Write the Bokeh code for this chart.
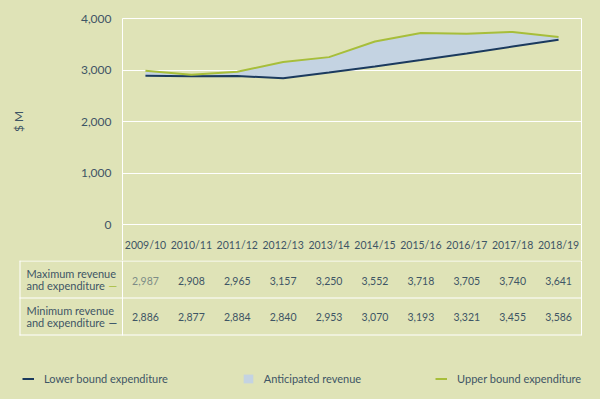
from bokeh.plotting import figure
from bokeh.layouts import column
from bokeh.models import (Range1d, FixedTicker, NumeralTickFormatter, Legend, LegendItem,
                          ColumnDataSource)
from bokeh.core.properties import value
from bokeh.embed import file_html
from bokeh.resources import INLINE

# ---------------- data ----------------
years = ["2009/10", "2010/11", "2011/12", "2012/13", "2013/14",
         "2014/15", "2015/16", "2016/17", "2017/18", "2018/19"]
upper = [2987, 2908, 2965, 3157, 3250, 3552, 3718, 3705, 3740, 3641]
lower = [2886, 2877, 2884, 2840, 2953, 3070, 3193, 3321, 3455, 3586]
y_ticks = [0, 1000, 2000, 3000, 4000]
y_title = "$ M"
row_titles = [["Maximum revenue", "and expenditure"],
              ["Minimum revenue", "and expenditure"]]
legend_labels = ["Lower bound expenditure", "Anticipated revenue", "Upper bound expenditure"]

# ---------------- style ----------------
BG = "#dfe3b7"
TXT = "#3e5565"
NAVY = "#1b3a5e"
GREEN = "#a7be3a"
FILL = "#c4d3e2"
WHITE = "#ffffff"
FONT = "Lato"

W = 600
N = len(years)
xs = [i + 0.5 for i in range(N)]          # category centres on the x scale

# ---------------- chart (top) ----------------
HA = 260
FL, FR, FT, FB = 122, 581, 18, 224           # frame edges in page px
pa = figure(width=W, height=HA, x_range=Range1d(0, N), y_range=Range1d(0, y_ticks[-1]),
            output_backend="svg", toolbar_location=None, frame_align=False,
            min_border_left=FL, min_border_right=W - FR, min_border_top=FT,
            min_border_bottom=HA - FB, background_fill_color=BG, border_fill_color=BG,
            outline_line_color=WHITE, outline_line_width=1)

ya = pa.yaxis[0]
ya.ticker = FixedTicker(ticks=y_ticks)
ya.formatter = NumeralTickFormatter(format="0,0")
ya.axis_line_color = None
ya.major_tick_line_color = None
ya.minor_tick_line_color = None
ya.major_tick_in = 0
ya.major_tick_out = 0
ya.minor_tick_in = 0
ya.minor_tick_out = 0
ya.major_label_standoff = 11
ya.major_label_text_font = FONT
ya.major_label_text_font_size = "12px"
ya.major_label_text_color = TXT
ya.axis_label = y_title
ya.axis_label_text_font = FONT
ya.axis_label_text_font_size = "12px"
ya.axis_label_text_font_style = "normal"
ya.axis_label_text_color = TXT
ya.axis_label_standoff = 52

CAT_H = HA - FB
xa = pa.xaxis[0]
xa.ticker = FixedTicker(ticks=xs, minor_ticks=[0, N])
xa.major_label_overrides = {x: y for x, y in zip(xs, years)}
xa.axis_line_color = None
xa.major_tick_line_color = None
xa.major_tick_in = 0
xa.major_tick_out = 0
xa.minor_tick_line_color = WHITE
xa.minor_tick_in = 0
xa.minor_tick_out = CAT_H
xa.major_label_standoff = 14 - CAT_H
xa.major_label_text_font = FONT
xa.major_label_text_font_size = "10.5px"
xa.major_label_text_color = TXT

pa.ygrid.ticker = FixedTicker(ticks=y_ticks)
pa.ygrid.grid_line_color = WHITE
pa.ygrid.grid_line_width = 1
pa.xgrid.visible = False

src = ColumnDataSource(dict(x=xs, upper=upper, lower=lower))
pa.varea(x="x", y1="lower", y2="upper", source=src, fill_color=FILL)
pa.line("x", "lower", source=src, line_color=NAVY, line_width=2)
pa.line("x", "upper", source=src, line_color=GREEN, line_width=2)

# ---------------- table + legend (bottom) ----------------
HB = 399 - HA
COLW = (FR - FL) / N
pb = figure(width=W, height=HB, x_range=Range1d(-FL / COLW, (W - FL) / COLW),
            y_range=Range1d(HB, 0), output_backend="svg", toolbar_location=None,
            x_axis_location=None, y_axis_location=None, frame_align=False,
            min_border_left=0, min_border_right=0, min_border_top=0, min_border_bottom=0,
            background_fill_color=BG, border_fill_color=BG, outline_line_color=None)
pb.xgrid.visible = False
pb.ygrid.visible = False


def xd(px):
    return (px - FL) / COLW


def yd(px):
    return px - HA


# grid of the table
row_lines = [260.5, 297.5, 334.5]
pb.segment(x0=[xd(19)] * 3, x1=[N] * 3, y0=[yd(v) for v in row_lines],
           y1=[yd(v) for v in row_lines], line_color=WHITE, line_width=1)
pb.segment(x0=[xd(19.5), 0, N], x1=[xd(19.5), 0, N], y0=[yd(260)] * 3, y1=[yd(335)] * 3,
           line_color=WHITE, line_width=1)

tfont = dict(text_font=value(FONT), text_align="center", text_baseline="middle",
             text_font_size="10.5px")
up_colors = ["#7d8c86"] + [TXT] * (N - 1)
pb.text(x=xs, y=[yd(280)] * N, text=[f"{v:,}" for v in upper], text_color=up_colors, **tfont)
pb.text(x=xs, y=[yd(316)] * N, text=[f"{v:,}" for v in lower], text_color=TXT, **tfont)

row_centers = [(273, 285), (310, 322)]
hx, hy, ht = [], [], []
for (l1, l2), (c1, c2) in zip(row_titles, row_centers):
    hx += [xd(26), xd(26)]
    hy += [yd(c1), yd(c2)]
    ht += [l1, l2]
pb.text(x=hx, y=hy, text=ht, text_color=TXT, text_font=value(FONT), text_font_size="11px",
        text_align="left", text_baseline="middle")
pb.text(x=[xd(108)] * 2, y=[yd(c2) for _, c2 in row_centers], text=["\u2014"] * 2,
        text_color=[GREEN, NAVY], text_font=value(FONT), text_font_size="11px",
        text_align="left", text_baseline="middle")

# legend proxies: the same series, which fall outside this panel's y range
g_lower = pb.line(x=xs, y=lower, line_color=NAVY, line_width=2)
g_fill = pb.varea(x=xs, y1=lower, y2=upper, fill_color=FILL)
g_upper = pb.line(x=xs, y=upper, line_color=GREEN, line_width=2)
legend = Legend(items=[LegendItem(label=legend_labels[0], renderers=[g_lower]),
                       LegendItem(label=legend_labels[1], renderers=[g_fill]),
                       LegendItem(label=legend_labels[2], renderers=[g_upper])],
                orientation="horizontal", location=(22, 14), padding=0, margin=0,
                spacing=74, glyph_width=12, glyph_height=11, label_height=12,
                label_standoff=10, border_line_color=None, background_fill_alpha=0,
                label_text_font=FONT, label_text_font_size="11px", label_text_color=TXT)
pb.add_layout(legend, "center")

layout = column(pa, pb, spacing=0)
html = file_html(layout, INLINE)
html = html.replace("</head>", "<style>html,body{background:" + BG + ";}</style></head>", 1)
open("out.html", "w").write(html)
